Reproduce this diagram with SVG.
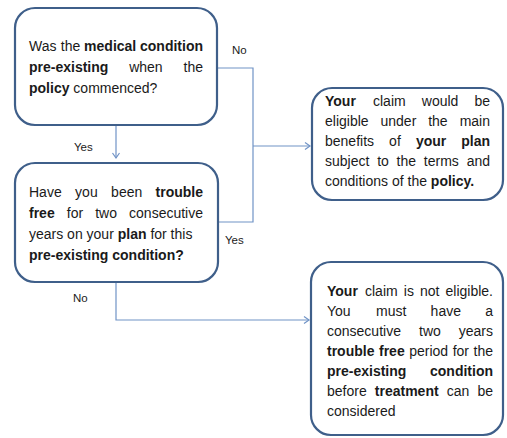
<svg xmlns="http://www.w3.org/2000/svg" width="507" height="438" viewBox="0 0 507 438">
<style>
.box{fill:#fff;stroke:#3f5f8a;stroke-width:2.2}
.t{font-family:"Liberation Sans",Arial,sans-serif;font-size:14px;fill:#1a1a1a}
.b{font-weight:bold}
.e{text-anchor:end}
.lbl{font-family:"Liberation Sans",Arial,sans-serif;font-size:11.5px;fill:#1a1a1a}
.c{fill:none;stroke:#7093c6;stroke-width:1.2}
</style>
<defs>
<marker id="arr" markerUnits="userSpaceOnUse" markerWidth="10" markerHeight="10" refX="6" refY="4" orient="auto">
<path d="M1,0.5 L6,4 L1,7.5" fill="none" stroke="#7093c6" stroke-width="1.2"/>
</marker>
</defs>
<rect width="507" height="438" fill="#fff"/>
<g id="connectors">
<path class="c" d="M217,68 H253 V222 H218"/>
<path class="c" d="M253,146 H310" marker-end="url(#arr)"/>
<path class="c" d="M116,125 V158" marker-end="url(#arr)"/>
<path class="c" d="M116,282 V320 H309" marker-end="url(#arr)"/>
<text class="lbl" x="232" y="54">No</text>
<text class="lbl" x="74" y="151">Yes</text>
<text class="lbl" x="225" y="244">Yes</text>
<text class="lbl" x="73" y="302">No</text>
</g>
<g id="node-q1">
<rect class="box" x="15" y="8" width="202" height="117" rx="20"/>
<text class="t" y="51"><tspan x="29">Was</tspan><tspan x="60.8">the</tspan><tspan class="b" x="84.1">medical</tspan><tspan class="b" x="140">condition</tspan></text>
<text class="t" y="72"><tspan class="b" x="29">pre-existing</tspan><tspan x="129.2">when</tspan></text>
<text class="t e" x="203" y="72">the</text>
<text class="t" x="29" y="93"><tspan class="b">policy</tspan> commenced?</text>
</g>
<g id="node-q2">
<rect class="box" x="15" y="163" width="203" height="119" rx="20"/>
<text class="t" y="197"><tspan x="29">Have</tspan><tspan x="75.1">you</tspan><tspan x="111.1">been</tspan></text>
<text class="t b e" x="203" y="197">trouble</text>
<text class="t" y="218"><tspan class="b" x="29">free</tspan><tspan x="66.8">for</tspan><tspan x="95.2">two</tspan></text>
<text class="t e" x="203" y="218">consecutive</text>
<text class="t" x="29" y="239">years on your <tspan class="b">plan</tspan> for this</text>
<text class="t b" x="29" y="260">pre-existing condition?</text>
</g>
<g id="node-eligible">
<rect class="box" x="312" y="88" width="191" height="112" rx="20"/>
<text class="t" y="106"><tspan class="b" x="325">Your</tspan><tspan x="373">claim</tspan><tspan x="421.8">would</tspan></text>
<text class="t e" x="490" y="106">be</text>
<text class="t" y="126"><tspan x="325">eligible</tspan><tspan x="380.5">under</tspan><tspan x="428.2">the</tspan></text>
<text class="t e" x="490" y="126">main</text>
<text class="t" y="146"><tspan x="325">benefits</tspan><tspan x="389.1">of</tspan><tspan class="b" x="415.9">your</tspan></text>
<text class="t b e" x="490" y="146">plan</text>
<text class="t" y="166"><tspan x="325">subject</tspan><tspan x="377.2">to</tspan><tspan x="396.6">the</tspan><tspan x="423.8">terms</tspan></text>
<text class="t e" x="490" y="166">and</text>
<text class="t" x="325" y="186">conditions of the <tspan class="b">policy.</tspan></text>
</g>
<g id="node-not-eligible">
<rect class="box" x="311" y="262" width="192" height="173" rx="20"/>
<text class="t" y="296"><tspan class="b" x="327">Your</tspan><tspan x="365">claim</tspan><tspan x="403.8">is</tspan><tspan x="420">not</tspan></text>
<text class="t e" x="493" y="296">eligible.</text>
<text class="t" y="316"><tspan x="327">You</tspan><tspan x="376.1">must</tspan><tspan x="430.6">have</tspan></text>
<text class="t e" x="493" y="316">a</text>
<text class="t" y="336"><tspan x="327">consecutive</tspan><tspan x="419">two</tspan></text>
<text class="t e" x="493" y="336">years</text>
<text class="t" y="356"><tspan class="b" x="327">trouble</tspan><tspan class="b" x="379">free</tspan><tspan x="409.2">period</tspan><tspan x="452.7">for</tspan></text>
<text class="t e" x="493" y="356">the</text>
<text class="t b" x="327" y="376">pre-existing</text>
<text class="t b e" x="493" y="376">condition</text>
<text class="t" y="396"><tspan x="327">before</tspan><tspan class="b" x="374.8">treatment</tspan><tspan x="446.7">can</tspan></text>
<text class="t e" x="493" y="396">be</text>
<text class="t" x="327" y="416">considered</text>
</g>
</svg>
